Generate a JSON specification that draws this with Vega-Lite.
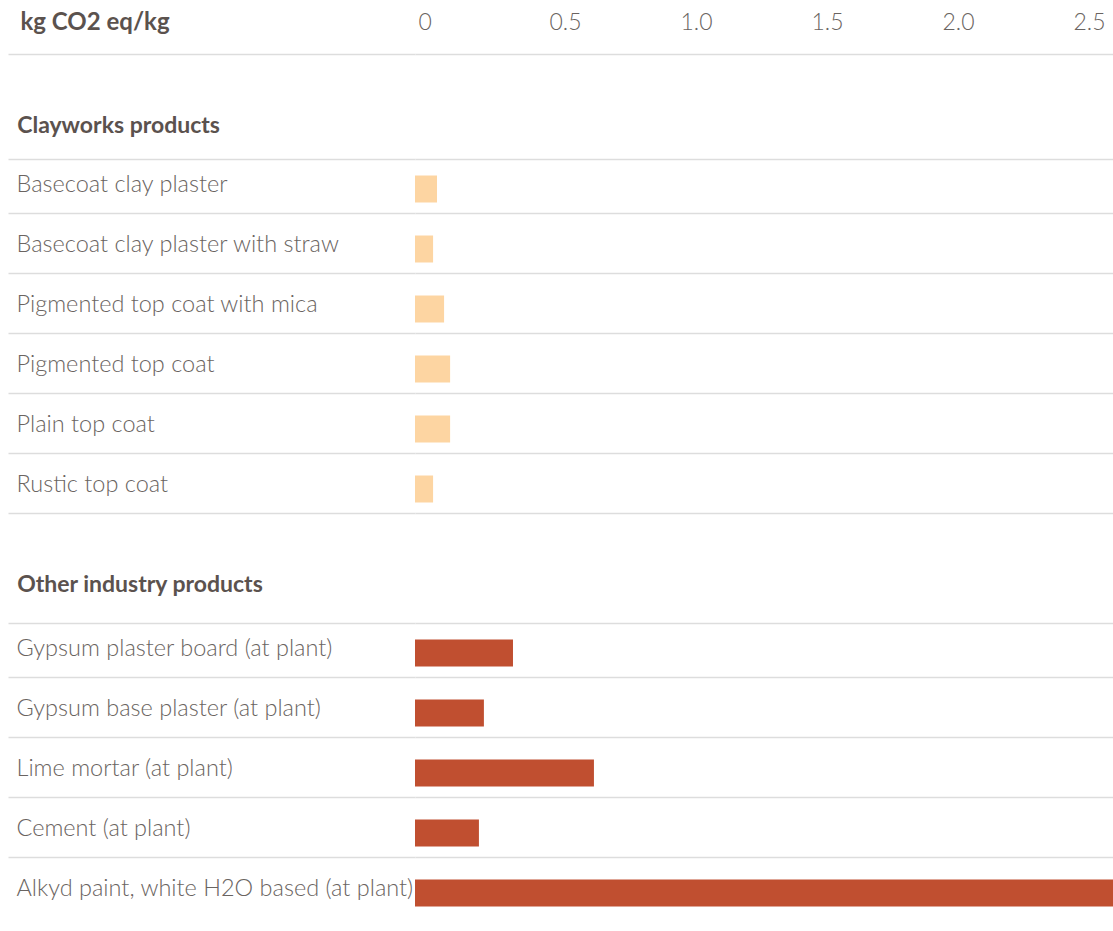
{
  "$schema": "https://vega.github.io/schema/vega-lite/v6.json",
  "padding": {"left": 7, "top": 0, "right": 0, "bottom": 0},
  "background": "white",
  "spacing": 58,
  "config": {
    "view": {"stroke": null},
    "font": "Lato",
    "title": {"font": "Lato", "fontSize": 23, "fontWeight": "bold", "color": "#5b524e", "anchor": "start", "frame": "bounds", "dx": 10, "offset": 6},
    "axisY": {
      "domain": false,
      "tickSize": 407,
      "tickColor": "#dddddd",
      "tickWidth": 1.6,
      "grid": true,
      "gridColor": "#dddddd",
      "gridWidth": 1.6,
      "labelAlign": "left",
      "labelBaseline": "middle",
      "labelPadding": -8,
      "labelOffset": -2,
      "labelFont": "Lato",
      "labelFontSize": 23.5,
      "labelFontWeight": 300,
      "labelColor": "#6a6461",
      "labelLimit": 600
    }
  },
  "vconcat": [
    {
      "width": 699,
      "height": 57,
      "data": {"values": [{"label": "kg CO2 eq/kg", "value": 0}]},
      "mark": {"type": "bar", "opacity": 0},
      "encoding": {
        "y": {
          "field": "label", "type": "nominal", "title": null,
          "axis": {"bandPosition": 1, "labelPadding": -12, "labelOffset": -6, "labelFontWeight": "bold", "labelFontSize": 24, "labelColor": "#5b524e", "grid": true}
        },
        "x": {
          "field": "value", "type": "quantitative", "title": null,
          "scale": {"domain": [0, 2.668], "nice": false},
          "axis": {
            "orient": "top", "values": [0, 0.5, 1, 1.5, 2, 2.5],
            "labelExpr": "datum.value === 0 ? '0' : format(datum.value, '.1f')",
            "ticks": false, "domain": false, "grid": false,
            "labelPadding": -22, "labelBaseline": "middle", "labelAlign": "left",
            "labelOffset": 3, "labelFlush": false,
            "labelFont": "Lato", "labelFontSize": 23, "labelFontWeight": 300, "labelColor": "#6a6461"
          }
        }
      }
    },
    {
      "width": 699,
      "height": {"step": 60},
      "title": {"text": "Clayworks products"},
      "data": {"values": [
        {"product": "Basecoat clay plaster", "value": 0.084},
        {"product": "Basecoat clay plaster with straw", "value": 0.069},
        {"product": "Pigmented top coat with mica", "value": 0.111},
        {"product": "Pigmented top coat", "value": 0.134},
        {"product": "Plain top coat", "value": 0.134},
        {"product": "Rustic top coat", "value": 0.069}
      ]},
      "mark": {"type": "bar", "color": "#fdd5a2", "height": {"band": 0.5}, "yOffset": 3},
      "encoding": {
        "y": {"field": "product", "type": "nominal", "sort": null, "title": null, "axis": {"tickBand": "extent"}},
        "x": {"field": "value", "type": "quantitative", "scale": {"domain": [0, 2.668], "nice": false}, "axis": null}
      }
    },
    {
      "width": 699,
      "height": {"step": 60},
      "title": {"text": "Other industry products", "offset": 11},
      "data": {"values": [
        {"product": "Gypsum plaster board (at plant)", "value": 0.374},
        {"product": "Gypsum base plaster (at plant)", "value": 0.263},
        {"product": "Lime mortar (at plant)", "value": 0.683},
        {"product": "Cement (at plant)", "value": 0.244},
        {"product": "Alkyd paint, white H2O based (at plant)", "value": 2.7}
      ]},
      "mark": {"type": "bar", "color": "#c04f30", "height": {"band": 0.5}, "clip": true, "yOffset": 3},
      "encoding": {
        "y": {"field": "product", "type": "nominal", "sort": null, "title": null,
          "axis": {
            "tickBand": "extent",
            "tickOpacity": {"condition": {"test": "datum.value === 'Alkyd paint, white H2O based (at plant)'", "value": 0}, "value": 1},
            "gridOpacity": {"condition": {"test": "datum.value === 'Alkyd paint, white H2O based (at plant)'", "value": 0}, "value": 1}
          }
        },
        "x": {"field": "value", "type": "quantitative", "scale": {"domain": [0, 2.668], "nice": false}, "axis": null}
      }
    }
  ]
}
